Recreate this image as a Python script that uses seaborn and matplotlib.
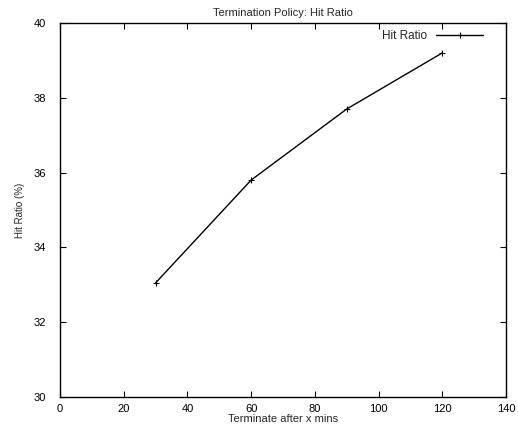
import matplotlib
matplotlib.use("Agg")
import matplotlib.pyplot as plt
import seaborn as sns
import pandas as pd

minutes = [30, 60, 90, 120]
hit_ratio = [33.05, 35.8, 37.7, 39.2]
x_ticks = [0, 20, 40, 60, 80, 100, 120, 140]
y_ticks = [30, 32, 34, 36, 38, 40]

sns.set_theme(style="white")
plt.rcParams['font.family'] = ['Liberation Sans', 'DejaVu Sans']

df = pd.DataFrame({"Terminate after x mins": minutes, "Hit Ratio": hit_ratio})

fig = plt.figure(figsize=(5.18, 4.26), dpi=100)
ax = fig.add_axes([60/518, 1-397/426, (506-60)/518, (397-23)/426])

sns.lineplot(data=df, x="Terminate after x mins", y="Hit Ratio", ax=ax,
             color="black", linewidth=1.0, marker="+", markersize=5,
             markeredgewidth=0.8, markeredgecolor="black", label="Hit Ratio")

ax.set_xlim(0, 140)
ax.set_ylim(30, 40)
ax.set_xticks(x_ticks)
ax.set_yticks(y_ticks)
ax.tick_params(direction="in", length=4, width=0.8, colors="black",
               labelsize=8, top=True, right=True, bottom=True, left=True,
               pad=5)
ax.tick_params(axis="y", pad=10)
for s in ax.spines.values():
    s.set_color("black")
    s.set_linewidth(1.0)

ax.set_title("Termination Policy: Hit Ratio", fontsize=8, pad=5)
ax.set_xlabel("Terminate after x mins", fontsize=8, labelpad=0)
ax.set_ylabel("Hit Ratio (%)", fontsize=7, labelpad=6)

leg = ax.legend(loc="upper right", bbox_to_anchor=(0.965, 1.0), frameon=False,
                fontsize=8.5, markerfirst=False, handlelength=4.0,
                borderaxespad=0.2, handletextpad=0.8)
for h in leg.legend_handles:
    h.set_markeredgecolor("black")

fig.savefig("out.png", dpi=100)
